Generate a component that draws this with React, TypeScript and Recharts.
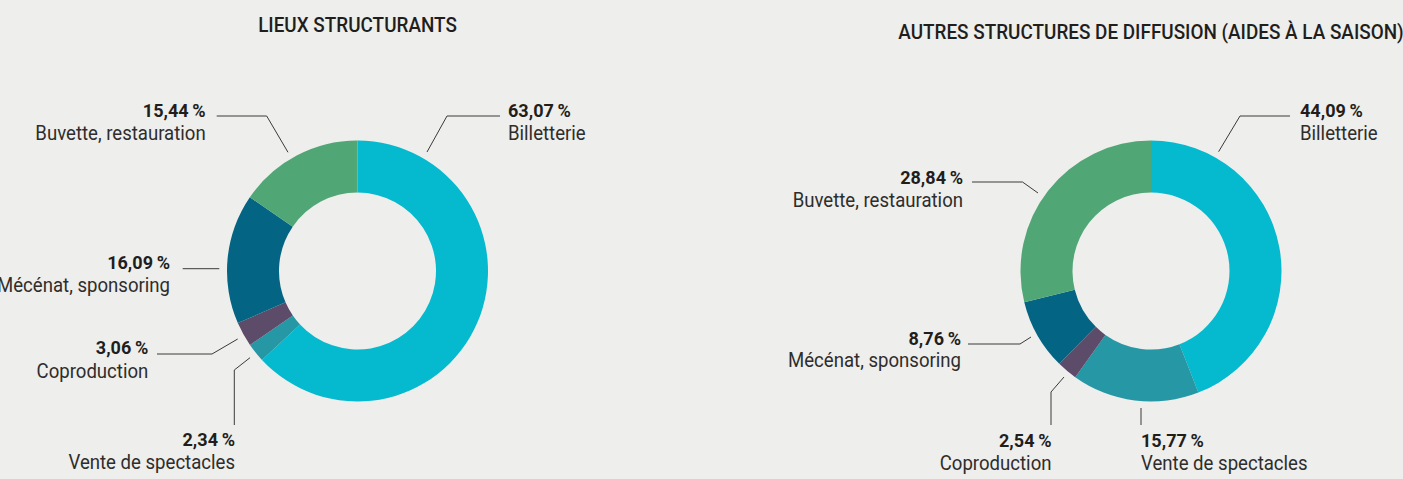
import React from 'react';
import { PieChart, Pie, Cell } from 'recharts';

const categories = [
  'Billetterie',
  'Vente de spectacles',
  'Coproduction',
  'Mécénat, sponsoring',
  'Buvette, restauration',
];
const lieuxValues = [63.07, 2.34, 3.06, 16.09, 15.44];
const autresValues = [44.09, 15.77, 2.54, 8.76, 28.84];
const chartTitles = ['LIEUX STRUCTURANTS', 'AUTRES STRUCTURES DE DIFFUSION (AIDES À LA SAISON)'];

const colors = ['#05B9CF', '#2597A5', '#5C4B69', '#036583', '#51A675'];
const BG = '#EEEEEC';
const INK = '#1F1E1D';
const LABEL_INK = '#2E2D2C';
const FONT = "Roboto, 'DejaVu Sans Condensed', sans-serif";

type LabelLayout = {
  line: [number, number][];
  x: number;
  anchor: 'start' | 'end';
  numY: number;
  labY: number;
};

// annotation layout, relative to each pie centre
const lieuxLayout: LabelLayout[] = [
  { line: [[69.5, -119], [89.5, -155], [142.5, -155]], x: 150.5, anchor: 'start', numY: -154.5, labY: -131 },
  { line: [[-107.5, 86.7], [-123.2, 99], [-123.2, 154]], x: -122.5, anchor: 'end', numY: 175, labY: 198 },
  { line: [[-119.8, 68], [-145.5, 83], [-200.5, 83]], x: -209.2, anchor: 'end', numY: 83.3, labY: 107.3 },
  { line: [[-138.2, -2.3], [-174.8, -2.3]], x: -187.5, anchor: 'end', numY: -1.7, labY: 20.7 },
  { line: [[-69.5, -118.7], [-90.8, -155], [-140.8, -155]], x: -151.8, anchor: 'end', numY: -154.5, labY: -131 },
];
const autresLayout: LabelLayout[] = [
  { line: [[67.6, -119.3], [89, -155], [139, -155]], x: 149, anchor: 'start', numY: -154.3, labY: -131 },
  { line: [[-10, 137], [-10, 154]], x: -10, anchor: 'start', numY: 175.7, labY: 199 },
  { line: [[-87, 106], [-100, 121], [-100, 154]], x: -99.5, anchor: 'end', numY: 175.7, labY: 199 },
  { line: [[-120, 66], [-131, 73], [-183, 73]], x: -190, anchor: 'end', numY: 74, labY: 95.7 },
  { line: [[-113, -78], [-128.5, -89], [-179, -89]], x: -188, anchor: 'end', numY: -86.7, labY: -64.3 },
];

const fmt = (v: number) => `${v.toFixed(2).replace('.', ',')}\u2009%`;

const buildData = (values: number[]) =>
  categories.map((name, i) => ({ name, value: values[i] }));

const CText = ({ x, y, sx, anchor, size, weight, fill, children }: any) => (
  <text
    transform={`translate(${x} ${y}) scale(${sx} 1)`}
    x={0}
    y={0}
    textAnchor={anchor}
    fontFamily={FONT}
    fontSize={size}
    fontWeight={weight || 400}
    fill={fill || INK}
  >
    {children}
  </text>
);

const makeLabel = (layout: LabelLayout[]) => (props: any) => {
  const { cx, cy, index, value, name } = props;
  const l = layout[index];
  if (!l) return null;
  const pts = l.line.map(([dx, dy]) => `${cx + dx},${cy + dy}`).join(' ');
  return (
    <g key={`lbl-${index}`}>
      <polyline points={pts} fill="none" stroke="#3A3A39" strokeWidth={1} />
      <CText x={cx + l.x} y={cy + l.numY} sx={0.95} anchor={l.anchor} size={19} weight={700}>
        {fmt(value)}
      </CText>
      <CText x={cx + l.x} y={cy + l.labY} sx={0.93} anchor={l.anchor} size={20} fill={LABEL_INK}>
        {name}
      </CText>
    </g>
  );
};

export default function App() {
  const W = 1403;
  const H = 479;
  const pies = [
    { data: buildData(lieuxValues), layout: lieuxLayout, cx: 357.5, title: chartTitles[0], titleY: 32 },
    { data: buildData(autresValues), layout: autresLayout, cx: 1151, title: chartTitles[1], titleY: 39 },
  ];
  return (
    <div style={{ position: 'relative', width: W, height: H, background: BG, overflow: 'hidden' }}>
      <style>{`html,body{margin:0;padding:0;background:${BG};}`}</style>
      <PieChart width={W} height={H} margin={{ top: 0, right: 0, bottom: 0, left: 0 }}>
        {pies.map((p, k) => (
          <Pie
            key={k}
            data={p.data}
            dataKey="value"
            nameKey="name"
            cx={p.cx}
            cy={271}
            innerRadius={78.5}
            outerRadius={130.5}
            startAngle={90}
            endAngle={-270}
            stroke="none"
            isAnimationActive={false}
            labelLine={false}
            label={makeLabel(p.layout)}
          >
            {p.data.map((d, i) => (
              <Cell key={d.name} fill={colors[i]} />
            ))}
          </Pie>
        ))}
      </PieChart>
      <svg width={W} height={H} style={{ position: 'absolute', left: 0, top: 0, pointerEvents: 'none' }}>
        {pies.map((p, k) => (
          <CText key={k} x={p.cx} y={p.titleY} sx={0.9} anchor="middle" size={21} weight={500}>
            {p.title}
          </CText>
        ))}
      </svg>
    </div>
  );
}
